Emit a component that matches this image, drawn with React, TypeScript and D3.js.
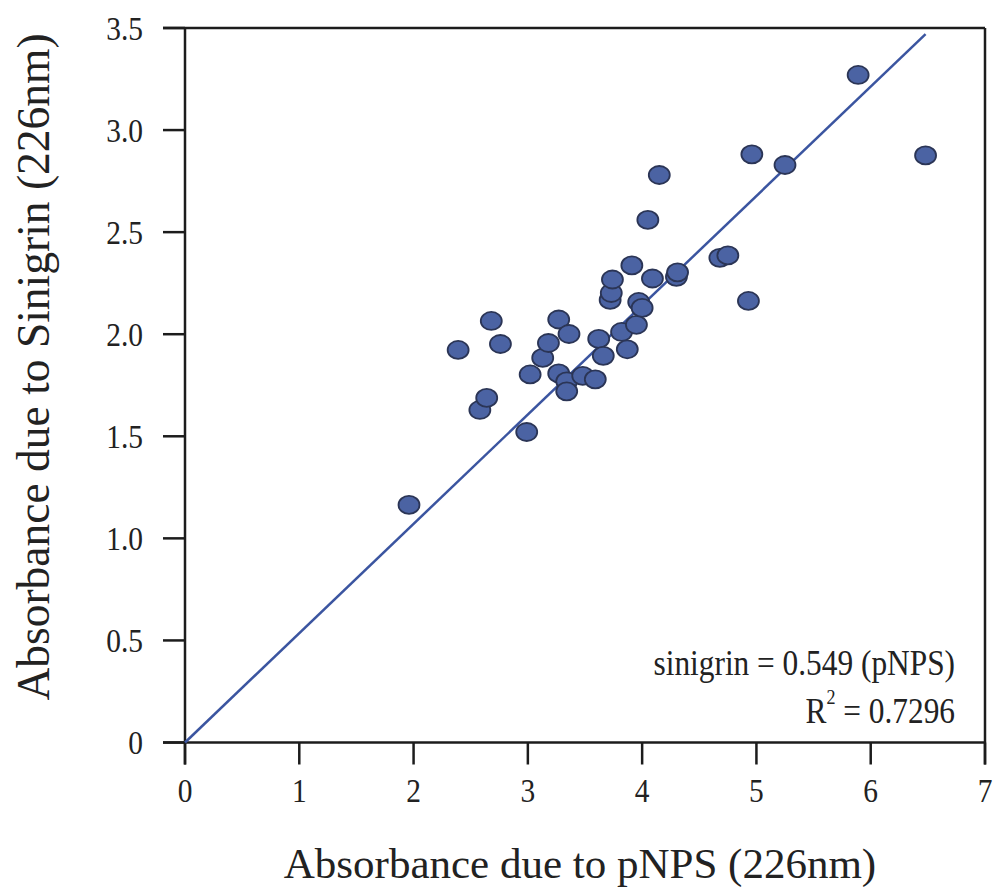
import React from "react";
import * as d3 from "d3";

const pNPS = [1.96, 2.39, 2.58, 2.64, 2.68, 2.76, 2.99, 3.02, 3.13, 3.18, 3.27, 3.27, 3.34, 3.34, 3.36, 3.48, 3.59, 3.62, 3.66, 3.72, 3.73, 3.74, 3.82, 3.87, 3.91, 3.95, 3.97, 4.0, 4.05, 4.09, 4.15, 4.3, 4.31, 4.68, 4.75, 4.93, 4.96, 5.25, 5.89, 6.48];
const sinigrin = [1.164, 1.923, 1.629, 1.688, 2.065, 1.952, 1.521, 1.803, 1.884, 1.957, 2.072, 1.808, 1.769, 1.72, 2.001, 1.796, 1.779, 1.977, 1.894, 2.168, 2.202, 2.268, 2.011, 1.926, 2.337, 2.046, 2.158, 2.129, 2.56, 2.273, 2.78, 2.281, 2.303, 2.374, 2.386, 2.163, 2.881, 2.829, 3.27, 2.876];
const fitLine: [number, number][] = [[0, 0], [6.48, 3.47]];
const xTicks = [0, 1, 2, 3, 4, 5, 6, 7];
const yTicks = [0, 0.5, 1.0, 1.5, 2.0, 2.5, 3.0, 3.5];
const yTickLabels = ["0", "0.5", "1.0", "1.5", "2.0", "2.5", "3.0", "3.5"];
const xTitle = "Absorbance due to pNPS (226nm)";
const yTitle = "Absorbance due to Sinigrin (226nm)";
const eqText = "sinigrin = 0.549 (pNPS)";
const r2Value = "0.7296";

const W = 1003;
const H = 890;
const FONT = "'Liberation Serif', 'Times New Roman', serif";

export default function App() {
  const x = d3.scaleLinear().domain([0, 7]).range([185, 985]);
  const y = d3.scaleLinear().domain([0, 3.5]).range([742.5, 28]);
  const line = d3.line<[number, number]>().x((d) => x(d[0])).y((d) => y(d[1]));
  const axisColor = "#1c1c1c";
  const tickLen = 22;

  return (
    <svg width={W} height={H} style={{ position: "absolute", left: 0, top: 0, background: "#fff" }}>
      <rect x={0} y={0} width={W} height={H} fill="#fff" />
      {/* frame */}
      <line x1={x(0) - tickLen} x2={x(7)} y1={y(3.5)} y2={y(3.5)} stroke={axisColor} strokeWidth={2.5} />
      <line x1={x(7)} x2={x(7)} y1={y(3.5)} y2={y(0) + tickLen} stroke={axisColor} strokeWidth={2.5} />
      <line x1={x(0) - tickLen} x2={x(7)} y1={y(0)} y2={y(0)} stroke={axisColor} strokeWidth={2.5} />
      <line x1={x(0)} x2={x(0)} y1={y(3.5)} y2={y(0) + tickLen} stroke={axisColor} strokeWidth={2.5} />
      {/* y ticks */}
      {yTicks.map((t, i) => (
        <g key={"y" + i}>
          <line x1={x(0) - tickLen} x2={x(0)} y1={y(t)} y2={y(t)} stroke={axisColor} strokeWidth={2.5} />
          <text transform={`translate(143, ${y(t)}) scale(0.95, 1.08)`} dy="0.35em" textAnchor="end" fontFamily={FONT} fontSize={31} fill="#222">
            {yTickLabels[i]}
          </text>
        </g>
      ))}
      {/* x ticks */}
      {xTicks.map((t, i) => (
        <g key={"x" + i}>
          <line x1={x(t)} x2={x(t)} y1={y(0)} y2={y(0) + tickLen} stroke={axisColor} strokeWidth={2.5} />
          <text transform={`translate(${x(t)}, 802) scale(0.95, 1.08)`} textAnchor="middle" fontFamily={FONT} fontSize={31} fill="#222">
            {t}
          </text>
        </g>
      ))}
      {/* fit line */}
      <path d={line(fitLine) || ""} fill="none" stroke="#3b55a0" strokeWidth={2.5} />
      {/* points */}
      {pNPS.map((v, i) => (
        <ellipse key={"p" + i} cx={x(v)} cy={y(sinigrin[i])} rx={10.5} ry={9} fill="#4b63a3" stroke="#2b3556" strokeWidth={1.8} />
      ))}
      {/* annotation */}
      <text transform="translate(955, 675) scale(0.95, 1.1)" textAnchor="end" fontFamily={FONT} fontSize={33} fill="#222">
        {eqText}
      </text>
      <text transform="translate(955, 723) scale(0.95, 1.1)" textAnchor="end" fontFamily={FONT} fontSize={33} fill="#222">
        <tspan>R</tspan>
        <tspan dy={-17} fontSize={19}>2</tspan>
        <tspan dy={17}>{" = " + r2Value}</tspan>
      </text>
      {/* axis titles */}
      <text x={580} y={878} textAnchor="middle" fontFamily={FONT} fontSize={43} fill="#222">
        {xTitle}
      </text>
      <text transform={`translate(49, 367) rotate(-90)`} textAnchor="middle" fontFamily={FONT} fontSize={45.5} fill="#222">
        {yTitle}
      </text>
    </svg>
  );
}
